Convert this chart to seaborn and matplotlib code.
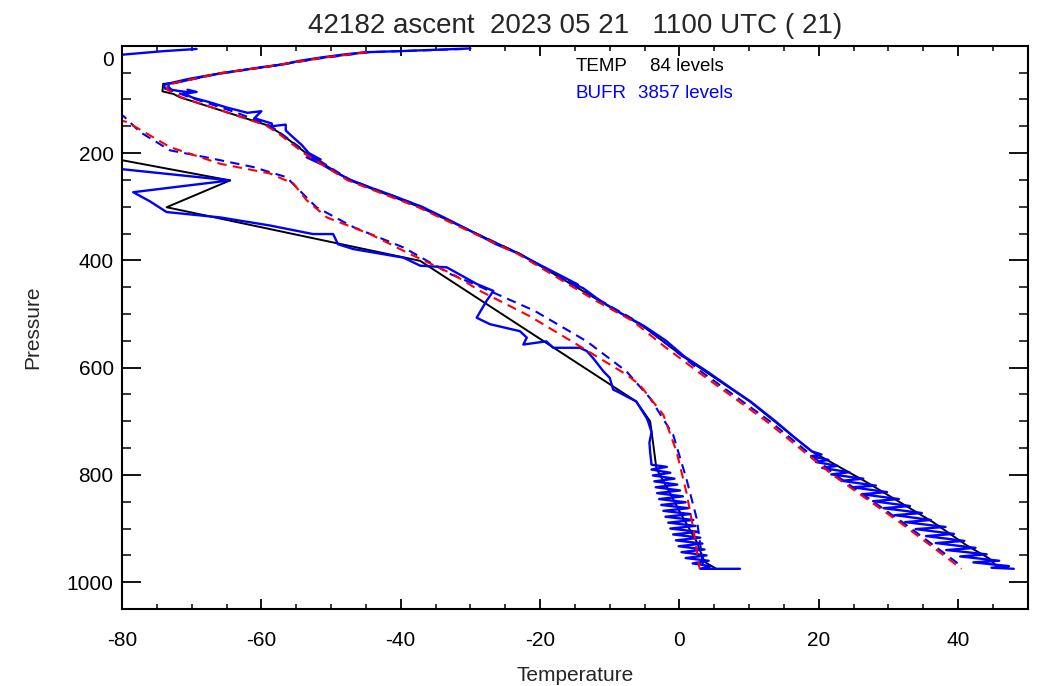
import matplotlib
matplotlib.use("Agg")
import matplotlib.pyplot as plt
import matplotlib.transforms as mtransforms
import seaborn as sns
from matplotlib.ticker import MultipleLocator

# ---------------- data (pressure hPa, temperature degC) ----------------
# TEMP message (84 levels) - black solid temperature
temp_T_p = [12, 23, 39, 51, 70, 71, 85, 90, 96, 148, 163, 201, 251, 301, 345,
            388, 476, 523, 579, 663, 757, 813, 888, 931, 956, 970]
temp_T_t = [-44.9, -51.6, -59.2, -65.9, -72.6, -74.1, -74.2, -72.6, -71.7, -59.2,
            -57.3, -53.5, -47.3, -37.2, -30.0, -22.9, -11.4, -5.2, 0.5, 10.1,
            19.1, 26.8, 36.4, 41.2, 44.5, 45.5]

# TEMP dew point - black solid
temp_Td_p = [200, 251, 301, 401, 663, 700, 738, 788, 830, 870, 925, 962, 975]
temp_Td_t = [-85.5, -64.5, -73.6, -37.2, -6.2, -4.2, -3.8, -3.3, -1.5, 0.1, 2.5, 3.6, 5.3]

# TEMP dashed profiles (red)
temp_D1_p = [12, 23, 39, 51, 70, 72, 82, 90, 96, 148, 163, 201, 251, 301, 345,
             388, 476, 513, 560, 610, 700, 800, 888, 975]
temp_D1_t = [-44.9, -51.6, -59.2, -65.9, -72.6, -73.5, -73.5, -72.3, -71.5, -59.4,
             -57.6, -53.8, -47.6, -37.5, -30.3, -23.2, -11.9, -6.7, -2.2, 2.9,
             12.5, 22.0, 31.6, 40.5]
temp_D2_p = [125, 142, 189, 220, 238, 257, 288, 320, 351, 388, 426, 457, 504,
             560, 613, 632, 688, 757, 832, 900, 975]
temp_D2_t = [-85.0, -79.3, -73.1, -65.9, -58.8, -55.4, -53.5, -50.6, -44.4, -38.7,
             -32.5, -28.6, -21.5, -14.3, -7.6, -5.7, -2.3, -0.4, 1.0, 2.0, 2.9]

# BUFR message (3857 levels) - blue solid temperature
bufr_T_p = [5, 8, 10, 12, 16, 22, 28, 35, 40, 48, 55, 62, 68, 71, 74, 80, 84, 87,
            82, 86, 90, 93, 97, 105, 115, 125, 122, 135, 145, 150, 147, 158, 170,
            185, 200, 212, 208, 222, 235, 250, 265, 280, 300, 320, 345, 370, 388,
            410, 430, 445, 440, 452, 476, 500, 523, 550, 579, 610, 640, 663, 700,
            730, 756, 762, 765, 772, 776, 783, 787, 795, 799, 807, 811, 820, 823,
            832, 836, 845, 849, 858, 862, 871, 875, 884, 888, 897, 901, 910, 914,
            923, 927, 936, 940, 948, 952, 960, 963, 970, 973, 975]
bufr_T_t = [-30.0, -36.0, -40.0, -45.0, -48.0, -51.5, -54.5, -57.0, -60.0, -64.0,
            -67.5, -70.5, -72.5, -73.6, -74.0, -73.8, -72.0, -70.3, -70.6, -69.3,
            -71.3, -70.5, -69.8, -67.5, -65.0, -62.0, -60.0, -61.0, -58.5, -58.5,
            -56.5, -56.5, -55.5, -54.2, -53.2, -51.5, -53.5, -51.2, -49.5, -47.2,
            -44.2, -41.0, -37.0, -33.8, -30.0, -26.3, -23.0, -19.8, -16.8, -14.6,
            -15.8, -13.8, -11.3, -8.2, -5.0, -1.9, 0.7, 4.3, 7.6, 10.2, 13.8,
            16.5, 19.0, 20.4, 18.9, 21.4, 19.6, 22.7, 20.5, 24.4, 21.8, 26.4,
            23.3, 28.2, 24.8, 29.8, 26.2, 31.5, 27.8, 33.1, 29.3, 34.8, 30.9,
            36.1, 32.4, 38.2, 33.9, 39.4, 35.4, 40.9, 36.8, 42.5, 38.3, 44.1,
            40.3, 45.9, 42.2, 47.3, 44.8, 48.0]

# BUFR dew point - blue solid
bufr_Td_p = [6, 10, 17, 40, 150, 222, 251, 262, 273, 290, 310, 320, 335, 351, 351,
             370, 379, 395, 410, 413, 444, 457, 476, 507, 519, 532, 544, 557, 551,
             563, 563, 569, 582, 607, 619, 641, 644, 663, 694, 700, 720, 740, 757,
             781, 785, 790, 796, 801, 807, 812, 818, 823, 829, 834, 840, 845, 851,
             856, 862, 867, 873, 878, 884, 889, 895, 900, 906, 911, 917, 922, 928,
             933, 939, 944, 950, 955, 960, 965, 970, 975, 975]
bufr_Td_t = [-69.3, -74.0, -80.3, -92.0, -95.0, -86.0, -64.5, -71.5, -78.4, -76.0,
             -73.6, -65.9, -58.8, -52.6, -49.7, -49.0, -46.8, -39.6, -37.2, -33.4,
             -29.1, -26.7, -27.7, -29.1, -27.2, -22.9, -21.9, -22.4, -19.1, -18.1,
             -14.3, -13.3, -12.4, -10.9, -10.0, -9.5, -9.0, -6.2, -4.7, -4.5,
             -4.0, -4.3, -4.2, -4.0, -1.8, -4.0, -1.3, -3.8, -0.7, -3.6, -0.3,
             -3.4, 0.1, -3.2, 0.5, -2.9, 0.9, -2.6, 1.3, -2.3, 1.6, -2.0, 2.0,
             -1.6, 2.3, -1.3, 2.7, -0.9, 3.0, -0.5, 3.3, -0.1, 3.6, 0.3, 3.9, 0.9,
             4.2, 1.9, 4.5, 3.0, 8.7]

# BUFR dashed profiles (blue)
bufr_D1_p = [6, 12, 23, 39, 51, 70, 75, 84, 95, 125, 150, 200, 250, 300, 345,
             388, 476, 513, 560, 610, 700, 800, 888, 970]
bufr_D1_t = [-31.0, -44.5, -51.3, -59.0, -65.6, -72.8, -73.4, -72.8, -70.5, -63.5,
             -58.6, -53.4, -47.3, -37.0, -30.0, -22.9, -11.2, -6.2, -1.4, 3.4,
             13.0, 22.4, 32.0, 40.5]
bufr_D2_p = [120, 131, 161, 176, 195, 207, 226, 245, 270, 301, 338, 376, 426,
             444, 494, 551, 607, 657, 725, 807, 882, 969]
bufr_D2_t = [-85.0, -79.8, -77.4, -75.5, -73.1, -68.3, -61.2, -56.4, -54.5, -52.1,
             -46.8, -39.6, -32.8, -29.5, -20.8, -13.3, -7.6, -4.2, -0.9, 1.0,
             2.5, 3.4]

title = "42182 ascent  2023 05 21   1100 UTC ( 21)"
temp_levels = 84
bufr_levels = 3857

# ---------------- figure ----------------
sns.set_style("ticks")
plt.rcParams['font.family'] = ['Liberation Sans', 'DejaVu Sans']
plt.rcParams['axes.unicode_minus'] = False

fig = plt.figure(figsize=(10.53, 6.86), dpi=100)
ax = fig.add_axes([0.1159, 0.1122, 0.8601, 0.8211])

dash = (0, (4.5, 3))


def prof(p, t, color, lw, ls="-"):
    sns.lineplot(x=t, y=p, sort=False, estimator=None, color=color,
                 linewidth=lw, linestyle=ls, ax=ax)


prof(temp_T_p, temp_T_t, "black", 1.4)
prof(temp_Td_p, temp_Td_t, "black", 1.4)
prof(bufr_T_p, bufr_T_t, "#0000ff", 1.7)
prof(bufr_Td_p, bufr_Td_t, "#0000ff", 1.7)
prof(bufr_D1_p, bufr_D1_t, "#0000ff", 1.5, dash)
prof(bufr_D2_p, bufr_D2_t, "#0000ff", 1.5, dash)
prof(temp_D1_p, temp_D1_t, "#ff0000", 1.5, dash)
prof(temp_D2_p, temp_D2_t, "#ff0000", 1.5, dash)

ax.set_xlim(-80, 50)
ax.set_ylim(1050, 0)
ax.xaxis.set_major_locator(MultipleLocator(20))
ax.xaxis.set_minor_locator(MultipleLocator(5))
ax.yaxis.set_major_locator(MultipleLocator(200))
ax.yaxis.set_minor_locator(MultipleLocator(50))
ax.tick_params(which="both", direction="in", top=True, right=True, colors="black")
ax.tick_params(axis="x", which="major", length=7.5, width=1.3, labelsize=15, pad=16)
ax.tick_params(axis="x", which="minor", length=3.7, width=1.1)
ax.tick_params(axis="y", which="major", length=13.5, width=1.3, labelsize=15, pad=6)
ax.tick_params(axis="y", which="minor", length=6.5, width=1.1)
for s in ax.spines.values():
    s.set_linewidth(1.5)
    s.set_color("black")

ax.set_xlabel("Temperature", fontsize=15, labelpad=11)
ax.set_ylabel("Pressure", fontsize=15, labelpad=18)
ax.set_title(title, fontsize=20, pad=9)

fig.canvas.draw()
for lab in ax.get_yticklabels():
    if lab.get_text() == "0":
        lab.set_transform(lab.get_transform() +
                          mtransforms.ScaledTranslation(0, -9 / 72, fig.dpi_scale_trans))

ax.text(0.501, 0.963, "TEMP", transform=ax.transAxes, fontsize=13.5,
        color="black", va="center", ha="left")
ax.text(0.583, 0.963, f"{temp_levels} levels", transform=ax.transAxes,
        fontsize=13.5, color="black", va="center", ha="left")
ax.text(0.501, 0.915, "BUFR", transform=ax.transAxes, fontsize=13.5,
        color="#0000ff", va="center", ha="left")
ax.text(0.570, 0.915, f"{bufr_levels} levels", transform=ax.transAxes,
        fontsize=13.5, color="#0000ff", va="center", ha="left")

fig.savefig("out.png", dpi=100)
